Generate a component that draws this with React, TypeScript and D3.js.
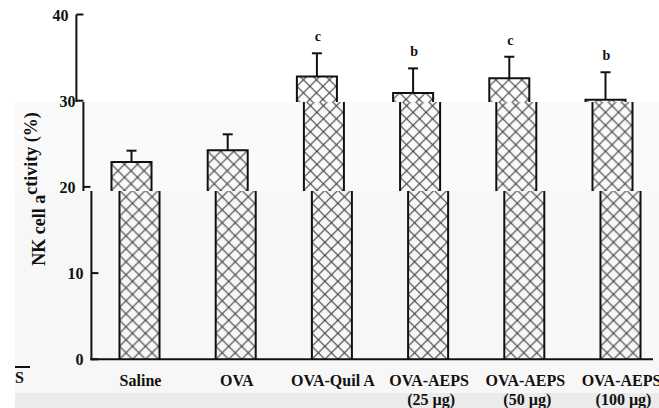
import React from "react";
import * as d3 from "d3";

const categories = ["Saline", "OVA", "OVA-Quil A", "OVA-AEPS", "OVA-AEPS", "OVA-AEPS"];
const subLabels = ["", "", "", "(25 µg)", "(50 µg)", "(100 µg)"];
const means = [22.9, 24.25, 32.8, 30.9, 32.6, 30.1];
const errors = [1.3, 1.85, 2.7, 2.85, 2.5, 3.2];
const letters = ["", "", "c", "b", "c", "b"];
const yTicks = [0, 10, 20, 30, 40];
const yTitleA = "NK cell a";
const yTitleB = "ctivity (%)";

const W = 659;
const H = 408;
const FONT = "'Liberation Serif', 'Times New Roman', serif";

const x = d3
  .scaleBand<number>()
  .domain(d3.range(categories.length))
  .range([91.4, 91.4 + 96.2 * categories.length])
  .paddingInner(0.584)
  .paddingOuter(0.292);
const y = d3.scaleLinear().domain([0, 40]).range([359.3, 14.5]);
const X0 = 91.4;
const BW = x.bandwidth();

const bands = [
  { y0: 0, y1: 102, dx: -15 },
  { y0: 102, y1: 191, dx: -8 },
  { y0: 191, y1: H, dx: 0 },
];
const bandDx = (yy: number) => (yy < 102 ? -15 : yy < 191 ? -8 : 0);

function Marks() {
  return (
    <g>
      {means.map((m, i) => {
        const bx = x(i)!;
        const top = y(m);
        const base = y(0);
        const cx = bx + BW / 2;
        const cap = y(m + errors[i]);
        return (
          <g key={i}>
            <rect x={bx} y={top} width={BW} height={base - top} fill={`url(#hatch-${i})`} />
            <path d={`M${bx},${base}V${top}H${bx + BW}V${base}`} fill="none" stroke="#111" strokeWidth={2} />
            <line x1={cx} x2={cx} y1={top} y2={cap} stroke="#111" strokeWidth={2} />
            <line x1={cx - 5} x2={cx + 5} y1={cap} y2={cap} stroke="#111" strokeWidth={2} />
          </g>
        );
      })}
      <line x1={X0} x2={X0} y1={y(40)} y2={y(0) + 1} stroke="#111" strokeWidth={2} />
      <line x1={X0 - 1} x2={653} y1={y(0)} y2={y(0)} stroke="#111" strokeWidth={2} />
      {yTicks.map((t) => (
        <line key={t} x1={X0} x2={X0 + 7} y1={y(t)} y2={y(t)} stroke="#111" strokeWidth={2} />
      ))}
    </g>
  );
}

export default function App() {
  return (
    <svg width={W} height={H} style={{ position: "absolute", left: 0, top: 0, background: "#fff" }}>
      <defs>
        {bands.map((b, i) => (
          <clipPath key={i} id={`band-${i}`}>
            <rect x={0} y={b.y0} width={W} height={b.y1 - b.y0} />
          </clipPath>
        ))}
        {means.map((_, i) => (
          <pattern
            key={i}
            id={`hatch-${i}`}
            patternUnits="userSpaceOnUse"
            x={x(i)}
            y={y(0)}
            width={13}
            height={13}
          >
            <path d="M0,0L13,13M13,0L0,13" stroke="#3a3a3a" strokeWidth={1.1} fill="none" />
          </pattern>
        ))}
      </defs>
      <rect x={15} y={102} width={W - 15} height={89} fill="#fafafa" />
      <rect x={15} y={191} width={W - 15} height={202} fill="#f7f7f7" />
      <rect x={15} y={393} width={W - 15} height={15} fill="#ebebeb" />
      {bands.map((b, i) => (
        <g key={i} clipPath={`url(#band-${i})`}>
          <g transform={`translate(${b.dx},0)`}>
            <Marks />
          </g>
        </g>
      ))}

      {/* significance letters */}
      {means.map((m, i) => {
        if (!letters[i]) return null;
        const ly = y(m + errors[i]) - 12;
        return (
          <text
            key={`l${i}`}
            x={x(i)! + BW / 2 + 1 + bandDx(ly)}
            y={ly}
            textAnchor="middle"
            fontFamily={FONT}
            fontWeight="bold"
            fontSize={14}
            fill="#111"
          >
            {letters[i]}
          </text>
        );
      })}

      {/* y tick labels */}
      {yTicks.map((t) => {
        const ty = y(t);
        const dx = t === 30 || t === 20 ? -8 : bandDx(ty);
        return (
          <text
            key={`t${t}`}
            x={X0 - 8 + dx}
            y={ty + 6}
            textAnchor="end"
            fontFamily={FONT}
            fontWeight="bold"
            fontSize={16}
            fill="#111"
          >
            {t}
          </text>
        );
      })}

      {/* category labels */}
      {categories.map((c, i) => (
        <text
          key={`c${i}`}
          x={x(i)! + BW / 2 + 1}
          y={386}
          textAnchor="middle"
          fontFamily={FONT}
          fontWeight="bold"
          fontSize={16}
          fill="#111"
        >
          {c}
        </text>
      ))}
      {subLabels.map((s, i) =>
        s ? (
          <text
            key={`s${i}`}
            x={x(i)! + BW / 2 + 3}
            y={405}
            textAnchor="middle"
            fontFamily={FONT}
            fontWeight="bold"
            fontSize={16}
            fill="#111"
          >
            {s}
          </text>
        ) : null
      )}

      {/* y title (stitched across two bands) */}
      <text
        transform="translate(45,189) rotate(-90)"
        textAnchor="middle"
        fontFamily={FONT}
        fontWeight="bold"
        fontSize={18}
        fill="#111"
      >
        <tspan>{yTitleA}</tspan>
        <tspan dy={-8}>{yTitleB}</tspan>
      </text>

      <line x1={15} x2={30} y1={367} y2={367} stroke="#111" strokeWidth={2} />
      <text x={15} y={383} fontFamily={FONT} fontWeight="bold" fontSize={16} fill="#111">
        S
      </text>
    </svg>
  );
}
